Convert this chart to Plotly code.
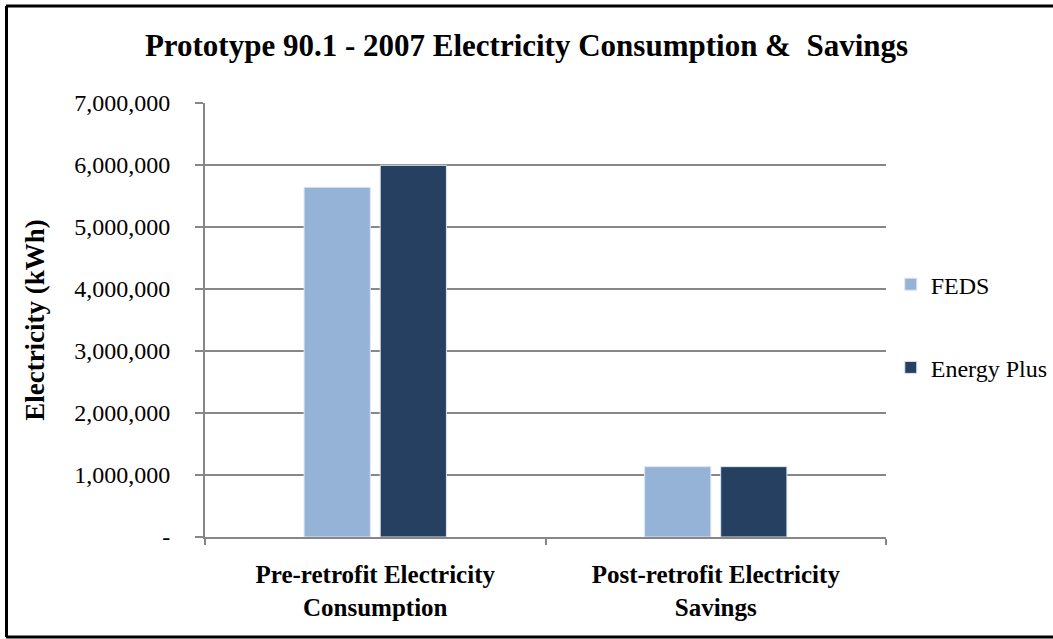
import plotly.graph_objects as go

categories = ["Pre-retrofit Electricity<br>Consumption", "Post-retrofit Electricity<br>Savings"]
feds = [5640000, 1135000]
energy_plus = [5995000, 1135000]
series_names = ["FEDS", "Energy Plus"]
tick_vals = [0, 1000000, 2000000, 3000000, 4000000, 5000000, 6000000, 7000000]
tick_text = ["-", "1,000,000", "2,000,000", "3,000,000", "4,000,000", "5,000,000", "6,000,000", "7,000,000"]

FONT = "Liberation Serif, Times New Roman, serif"
GRAY = "#878787"

fig = go.Figure()
fig.add_trace(go.Bar(x=categories, y=feds, name=series_names[0], marker=dict(color="#95B3D7", line=dict(color="#DCE6F2", width=1)), legendgroup="a"))
fig.add_trace(go.Bar(x=categories, y=energy_plus, name=series_names[1], marker=dict(color="#254061", line=dict(color="#DCE6F2", width=1)), legendgroup="b"))

fig.update_layout(
    width=1053, height=639,
    margin=dict(l=205, r=167, t=103, b=102, autoexpand=False),
    paper_bgcolor="white", plot_bgcolor="white",
    font=dict(family=FONT, color="black", size=24),
    title=dict(text="<b>Prototype 90.1 - 2007 Electricity Consumption &  Savings</b>",
               x=0.5, xanchor="center", y=0.93, yanchor="middle",
               font=dict(family=FONT, size=31, color="black")),
    barmode="group", bargap=0.553, bargroupgap=0.13,
    showlegend=True,
    legend=dict(x=1.007, xanchor="left", y=0.486, yanchor="middle", traceorder="grouped",
                tracegroupgap=49, font=dict(family=FONT, size=24, color="black"),
                itemwidth=30, bgcolor="rgba(0,0,0,0)"),
    xaxis=dict(showline=True, linecolor=GRAY, linewidth=2, ticks="outside", tickson="boundaries",
               ticklen=6, tickcolor=GRAY, tickwidth=2, ticklabelstandoff=14,
               tickfont=dict(family=FONT, size=25, color="black"),
               showgrid=False),
    yaxis=dict(range=[0, 7000000], tickvals=tick_vals, ticktext=tick_text,
               showline=True, linecolor=GRAY, linewidth=2, ticks="outside", ticklen=8,
               tickcolor=GRAY, tickwidth=2, showgrid=True, gridcolor=GRAY, gridwidth=2,
               ticklabelstandoff=20,
               tickfont=dict(family=FONT, size=24, color="black"), zeroline=False,
               title=dict(text="<b>Electricity (kWh)</b>", standoff=22,
                          font=dict(family=FONT, size=27, color="black"))),
)
# x tick labels bold
fig.update_xaxes(ticktext=["<b>" + c + "</b>" for c in categories], tickvals=categories)

# chart area border (top, left, bottom)
def px_x(x):
    return (x - 205) / 681
def px_y(y):
    return (537 - y) / 434
for (x0, y0, x1, y1) in [(6, 6, 1053, 6), (6.5, 6, 6.5, 637), (6, 637, 1053, 637)]:
    fig.add_shape(type="line", xref="paper", yref="paper",
                  x0=px_x(x0), y0=px_y(y0), x1=px_x(x1), y1=px_y(y1),
                  line=dict(color="black", width=3))

fig.write_html("out.html")
